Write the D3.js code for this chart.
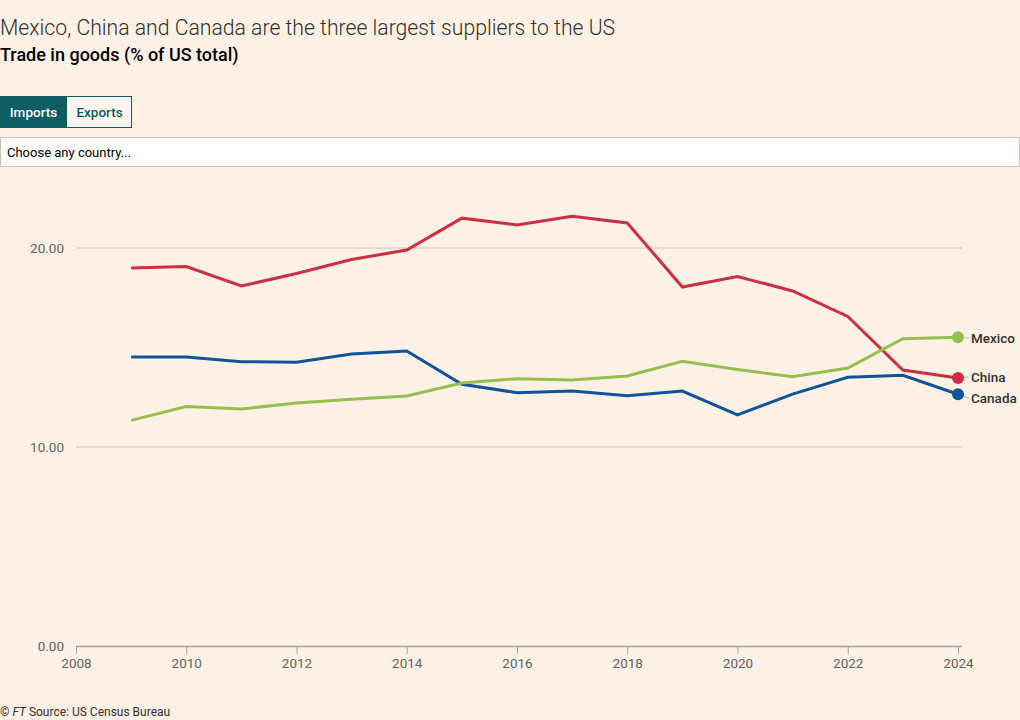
<!DOCTYPE html>
<html><head><meta charset="utf-8">
<script src="https://cdn.jsdelivr.net/npm/d3@7"></script>
<style>
html,body{margin:0;padding:0;background:#fff1e5;}
body{width:1020px;height:720px;overflow:hidden;position:relative;font-family:"Open Sans",sans-serif;}
</style></head>
<body>
<svg id="chart" width="1020" height="720"></svg>
<script>
const years = [2009,2010,2011,2012,2013,2014,2015,2016,2017,2018,2019,2020,2021,2022,2023,2024];
const china  = [18.99,19.07,18.09,18.72,19.42,19.90,21.50,21.16,21.60,21.26,18.04,18.57,17.84,16.56,13.87,13.47];
const canada = [14.52,14.52,14.29,14.26,14.67,14.82,13.15,12.73,12.81,12.58,12.81,11.61,12.66,13.50,13.60,12.65];
const mexico = [11.34,12.03,11.91,12.21,12.40,12.56,13.22,13.43,13.37,13.57,14.31,13.89,13.53,13.97,15.44,15.51];
const seriesNames = ["Mexico","China","Canada"];
const yTicks = [0,10,20];
const xTicks = [2008,2010,2012,2014,2016,2018,2020,2022,2024];
const title = "Mexico, China and Canada are the three largest suppliers to the US";
const subtitle = "Trade in goods (% of US total)";
const source = "Source: US Census Bureau";

const colors = {Mexico:"#96bf4f", China:"#cc2f42", Canada:"#0f5499"};
const series = [
  {name:"China", values:china},
  {name:"Canada", values:canada},
  {name:"Mexico", values:mexico}
];

const svg = d3.select("#chart");
const textCol = "#33302e";

// Title & subtitle
svg.append("text").attr("x",0).attr("y",35).attr("font-family","Roboto").attr("font-weight",300)
  .attr("font-size",21.2).attr("fill",textCol).text(title);
svg.append("text").attr("x",0).attr("y",61).attr("font-family","Roboto").attr("font-weight",500)
  .attr("font-size",18).attr("fill","#000").text(subtitle);

// Buttons
svg.append("rect").attr("x",0.5).attr("y",96.5).attr("width",131).attr("height",31).attr("fill","#fff7ef").attr("stroke","#0d5d64");
svg.append("rect").attr("x",0).attr("y",96).attr("width",67).attr("height",32).attr("fill","#0d5d64");
svg.append("text").attr("x",33.5).attr("y",117).attr("text-anchor","middle").attr("font-family","Roboto").attr("font-weight",500)
  .attr("font-size",13.5).attr("fill","#fff").text("Imports");
svg.append("text").attr("x",99.5).attr("y",117).attr("text-anchor","middle").attr("font-family","Roboto").attr("font-weight",500)
  .attr("font-size",13.5).attr("fill","#0d5d64").text("Exports");

// Dropdown
svg.append("rect").attr("x",0.5).attr("y",137.5).attr("width",1019).attr("height",29).attr("fill","#fff").attr("stroke","#ccc2b8");
svg.append("text").attr("x",7).attr("y",157).attr("font-family","Roboto").attr("font-size",13).attr("fill","#000").text("Choose any country...");

// Scales
const x = d3.scaleLinear().domain([2008,2024]).range([76,958]);
const y = d3.scaleLinear().domain([0,20]).range([646,248]);

// Grid
const g = svg.append("g");
g.selectAll("line.grid").data(yTicks.filter(d=>d>0)).join("line")
  .attr("x1",76).attr("x2",962).attr("y1",d=>y(d)).attr("y2",d=>y(d))
  .attr("stroke","#cdbfb4").attr("stroke-width",1);
g.selectAll("text.ytick").data(yTicks).join("text")
  .attr("x",64).attr("y",d=>y(d)+5).attr("text-anchor","end")
  .attr("font-family","Roboto").attr("font-size",13.5).attr("fill","#66605c")
  .text(d=>d3.format(".2f")(d));

// X axis
const xAxis = d3.axisBottom(x).tickValues(xTicks).tickFormat(d3.format("d")).tickSize(8).tickSizeOuter(0);
const ax = svg.append("g").attr("transform","translate(0,646)").call(xAxis);
ax.select(".domain").attr("stroke","#a7a09b").attr("stroke-width",1.5).attr("d","M76,0.5H962");
ax.selectAll(".tick line").attr("stroke","#a7a09b");
ax.selectAll(".tick text").attr("font-family","Roboto").attr("font-size",13.5).attr("fill","#66605c").attr("dy","0.85em");

// Lines
const line = d3.line().x((d,i)=>x(years[i])).y(d=>y(d));
svg.selectAll("path.series").data(series).join("path")
  .attr("fill","none").attr("stroke",d=>colors[d.name]).attr("stroke-width",3)
  .attr("stroke-linejoin","miter")
  .attr("d",d=>line(d.values));

// End dots & labels
const labelY = {Mexico:338, China:377, Canada:398};
series.forEach(s=>{
  const v = s.values[s.values.length-1];
  const cx = x(years[years.length-1]), cy = y(v);
  svg.append("line").attr("x1",cx).attr("x2",cx+11).attr("y1",cy).attr("y2",labelY[s.name]).attr("stroke","#bbb").attr("stroke-width",1);
  svg.append("circle").attr("cx",cx).attr("cy",cy).attr("r",6).attr("fill",colors[s.name]);
  svg.append("text").attr("x",971).attr("y",labelY[s.name]+5).attr("font-family","Roboto").attr("font-weight",500)
    .attr("font-size",13.5).attr("fill","#33302e").text(s.name);
});

// Footer
const ft = svg.append("text").attr("x",0).attr("y",716).attr("font-family","Roboto").attr("font-size",12).attr("fill","#33302e");
ft.append("tspan").text("© ");
ft.append("tspan").attr("font-style","italic").text("FT");
ft.append("tspan").text(" " + source);
</script>
</body></html>
